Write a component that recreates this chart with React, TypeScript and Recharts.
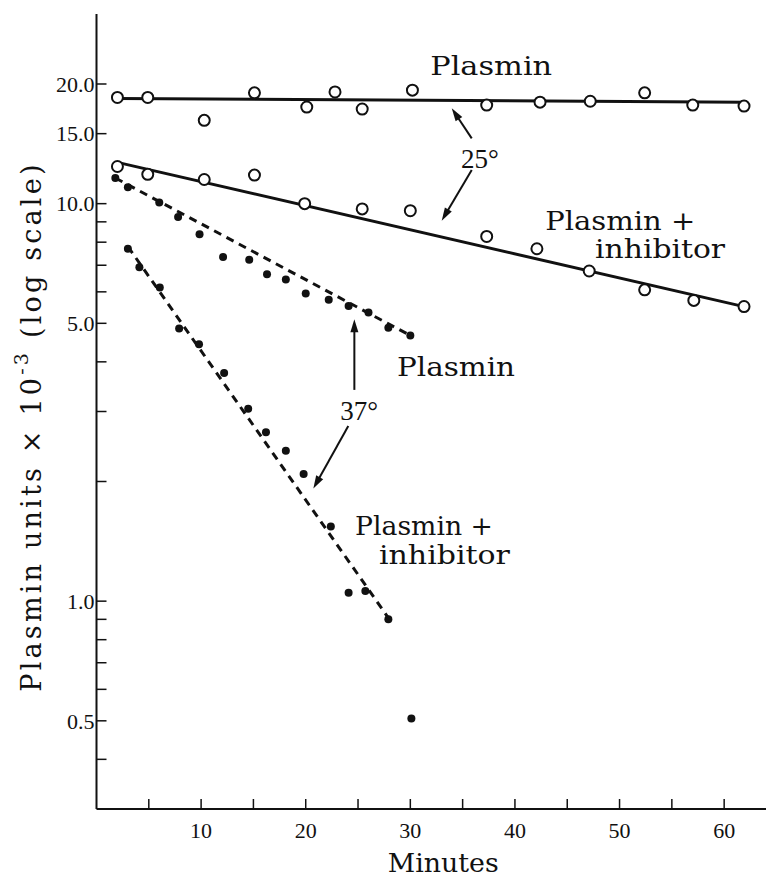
import React from 'react';
import {
  ComposedChart,
  Line,
  Scatter,
  XAxis,
  YAxis,
  ReferenceLine,
  ReferenceDot,
} from 'recharts';

// ---- data (minutes, plasmin units x 10^-3) ----
// 25° — plasmin alone (open circles)
const p25Minutes = [2, 4.9, 10.3, 15.1, 20.1, 22.8, 25.4, 30.2, 37.3, 42.4, 47.2, 52.4, 57.0, 61.9];
const p25Units = [18.5, 18.5, 16.2, 19.0, 17.5, 19.1, 17.3, 19.3, 17.7, 18.0, 18.1, 19.0, 17.7, 17.6];
// 25° — plasmin + inhibitor (open circles)
const pi25Minutes = [2, 4.9, 10.3, 15.1, 19.9, 25.4, 30.0, 37.3, 42.1, 47.1, 52.4, 57.1, 61.9];
const pi25Units = [12.4, 11.85, 11.5, 11.8, 10.0, 9.7, 9.6, 8.27, 7.7, 6.77, 6.07, 5.71, 5.51];
// 37° — plasmin alone (filled dots)
const p37Minutes = [1.8, 3.0, 6.0, 7.8, 9.85, 12.1, 14.6, 16.3, 18.1, 20.0, 22.2, 24.1, 26.0, 27.9, 30.0];
const p37Units = [11.6, 11.0, 10.07, 9.25, 8.37, 7.34, 7.23, 6.64, 6.44, 5.94, 5.73, 5.53, 5.32, 4.87, 4.66];
// 37° — plasmin + inhibitor (filled dots)
const pi37Minutes = [3.0, 4.1, 6.05, 7.9, 9.8, 12.2, 14.5, 16.2, 18.1, 19.8, 22.4, 24.1, 25.7, 27.9, 30.1];
const pi37Units = [7.7, 6.92, 6.15, 4.85, 4.43, 3.75, 3.05, 2.66, 2.39, 2.09, 1.54, 1.05, 1.06, 0.9, 0.507];

// fitted lines
const p25FitMinutes = [2, 62];
const p25FitUnits = [18.4, 18.0];
const pi25FitMinutes = [2, 62];
const pi25FitUnits = [12.7, 5.5];
const p37FitMinutes = [1.8, 30];
const p37FitUnits = [11.6, 4.66];
const pi37FitMinutes = [3.0, 28];
const pi37FitUnits = [7.8, 0.9];

// axes
const xTicks = [5, 10, 15, 20, 25, 30, 35, 40, 45, 50, 55, 60];
const xLabeled = [10, 20, 30, 40, 50, 60];
const yTicks = [0.4, 0.5, 0.6, 0.7, 0.8, 0.9, 1, 2, 3, 4, 5, 6, 7, 8, 9, 10, 15, 20];
const yLabeled = [0.5, 1, 5, 10, 15, 20];

// annotations (data coordinates)
const noteTexts = ['Plasmin', '25°', 'Plasmin +', 'inhibitor', 'Plasmin', '37°', 'Plasmin +', 'inhibitor'];
const noteMinutes = [31.9, 36.66, 42.9, 47.66, 28.73, 25.1, 24.71, 27.0];
const noteUnits = [21.06, 12.3, 8.58, 7.3, 3.69, 2.86, 1.467, 1.24];
const noteWidths = [122, 0, 150, 130, 118, 0, 138, 131];
const arrowFrom = [
  { x: 35.87, y: 14.6 },
  { x: 35.87, y: 12.15 },
  { x: 24.65, y: 3.4 },
  { x: 24.07, y: 2.76 },
];
const arrowTo = [
  { x: 33.96, y: 17.37 },
  { x: 33.0, y: 9.06 },
  { x: 24.65, y: 5.12 },
  { x: 20.73, y: 1.92 },
];

const zip = (xs: number[], ys: number[]) => xs.map((x, i) => ({ x, y: ys[i] }));

const INK = '#111';
const LETTER = '"DejaVu Serif", serif';
const NUM = '"Liberation Serif", serif';

const OpenCircle = (p: any) => (
  <circle cx={p.cx} cy={p.cy} r={5.5} fill="#fff" stroke={INK} strokeWidth={2} />
);
const FilledDot = (p: any) => <circle cx={p.cx} cy={p.cy} r={4} fill={INK} />;

const arrowShape = (p: any) => {
  const { x1, y1, x2, y2 } = p;
  const dx = x2 - x1;
  const dy = y2 - y1;
  const len = Math.hypot(dx, dy) || 1;
  const ux = dx / len;
  const uy = dy / len;
  const hl = 13;
  const hw = 4;
  const bx = x2 - ux * hl;
  const by = y2 - uy * hl;
  const pts = `${x2},${y2} ${bx - uy * hw},${by + ux * hw} ${bx + uy * hw},${by - ux * hw}`;
  return (
    <g>
      <line x1={x1} y1={y1} x2={bx + ux * 2} y2={by + uy * 2} stroke={INK} strokeWidth={2} />
      <polygon points={pts} fill={INK} />
    </g>
  );
};

const noteShape = (text: string, width: number) => (p: any) => {
  const isDeg = text.includes('°');
  const extra: any = width > 0 ? { textLength: width, lengthAdjust: 'spacingAndGlyphs' } : {};
  return (
    <text
      x={p.cx}
      y={p.cy}
      textAnchor={isDeg ? 'middle' : 'start'}
      fontFamily={isDeg ? NUM : LETTER}
      fontSize={isDeg ? 27 : 26}
      fill={INK}
      {...extra}
    >
      {text}
    </text>
  );
};

const YTitle = (props: any) => {
  const vb = props.viewBox || { x: 0, y: 14, width: 96, height: 795 };
  const cx = 31;
  const cy = vb.y + vb.height / 2 + 15;
  return (
    <text
      x={cx}
      y={cy}
      transform={`rotate(-90 ${cx} ${cy})`}
      textAnchor="middle"
      dominantBaseline="central"
      fontFamily={LETTER}
      fontSize={27}
      letterSpacing={3.2}
      fill={INK}
    >
      <tspan>Plasmin units × 10</tspan>
      <tspan dy={-10} fontSize={19}>-3</tspan>
      <tspan dy={10}> (log scale)</tspan>
    </text>
  );
};

const XTitle = (props: any) => {
  const vb = props.viewBox || { x: 96, y: 809, width: 670, height: 71 };
  return (
    <text
      x={vb.x + vb.width / 2 + 12}
      y={872}
      textAnchor="middle"
      fontFamily={LETTER}
      fontSize={26}
      textLength={111}
      lengthAdjust="spacingAndGlyphs"
      fill={INK}
    >
      Minutes
    </text>
  );
};

export default function App() {
  return (
    <div
      style={{
        position: 'absolute',
        left: 0,
        top: 0,
        width: 768,
        height: 880,
        background: '#fff',
      }}
    >
      <ComposedChart width={768} height={880} margin={{ top: 14, right: 2, bottom: 0, left: 0 }}>
        <XAxis
          type="number"
          dataKey="x"
          domain={[0, 64]}
          ticks={xTicks}
          allowDataOverflow
          height={71}
          stroke={INK}
          axisLine={{ stroke: INK, strokeWidth: 2 }}
          tickLine={{ stroke: INK, strokeWidth: 1.5 }}
          tickSize={-10}
          tickMargin={23}
          tick={{ fill: INK, fontFamily: NUM, fontSize: 22 }}
          tickFormatter={(v: number) => (xLabeled.includes(v) ? String(v) : '')}
          label={{ content: XTitle } as any}
        />
        <YAxis
          type="number"
          dataKey="y"
          scale="log"
          domain={[0.3, 30]}
          ticks={yTicks}
          allowDataOverflow
          width={96.5}
          stroke={INK}
          axisLine={{ stroke: INK, strokeWidth: 2 }}
          tickLine={{ stroke: INK, strokeWidth: 1.5 }}
          tickSize={-10}
          tickMargin={12}
          tick={{ fill: INK, fontFamily: NUM, fontSize: 22 }}
          tickFormatter={(v: number) => (yLabeled.includes(v) ? v.toFixed(1) : '')}
          label={{ content: YTitle } as any}
        />

        <Line data={zip(p25FitMinutes, p25FitUnits)} dataKey="y" stroke={INK} strokeWidth={3} dot={false} isAnimationActive={false} />
        <Line data={zip(pi25FitMinutes, pi25FitUnits)} dataKey="y" stroke={INK} strokeWidth={3} dot={false} isAnimationActive={false} />
        <Line data={zip(p37FitMinutes, p37FitUnits)} dataKey="y" stroke={INK} strokeWidth={3} strokeDasharray="8 6" dot={false} isAnimationActive={false} />
        <Line data={zip(pi37FitMinutes, pi37FitUnits)} dataKey="y" stroke={INK} strokeWidth={3} strokeDasharray="8 6" dot={false} isAnimationActive={false} />

        <Scatter data={zip(p25Minutes, p25Units)} shape={OpenCircle} isAnimationActive={false} />
        <Scatter data={zip(pi25Minutes, pi25Units)} shape={OpenCircle} isAnimationActive={false} />
        <Scatter data={zip(p37Minutes, p37Units)} shape={FilledDot} isAnimationActive={false} />
        <Scatter data={zip(pi37Minutes, pi37Units)} shape={FilledDot} isAnimationActive={false} />

        {arrowFrom.map((a, i) => (
          <ReferenceLine key={`arr${i}`} segment={[a, arrowTo[i]]} shape={arrowShape} ifOverflow="visible" />
        ))}
        {noteTexts.map((t, i) => (
          <ReferenceDot
            key={`note${i}`}
            x={noteMinutes[i]}
            y={noteUnits[i]}
            r={0}
            ifOverflow="visible"
            shape={noteShape(t, noteWidths[i])}
          />
        ))}
      </ComposedChart>
    </div>
  );
}
